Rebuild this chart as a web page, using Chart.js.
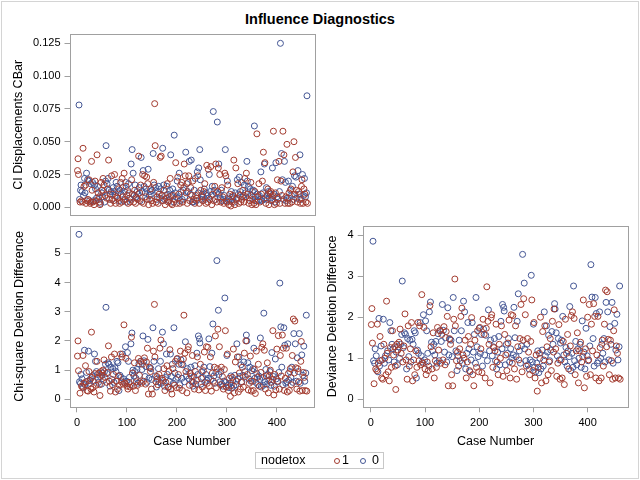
<!DOCTYPE html>
<html>
<head>
<meta charset="utf-8">
<script src="https://cdn.jsdelivr.net/npm/chart.js@4/dist/chart.umd.min.js"></script>
<style>
  body { margin: 0; background: #fff; }
  #page { position: relative; width: 640px; height: 480px; font-family: "Liberation Sans", Arial, sans-serif; }
  canvas { position: absolute; }
  #outline { position: absolute; left: 1px; top: 1px; width: 636px; height: 476px; border: 1px solid #d4d4d4; }
  #title { position: absolute; left: 0; width: 640px; top: 10px; text-align: center; font-weight: bold; font-size: 14.5px; line-height: 18px; color: #000; }
  #legend { position: absolute; left: 255px; top: 452px; width: 127px; height: 15px; border: 1px solid #c8c8c8; font-size: 12.5px; line-height: 15px; color: #000; }
  #legend span { position: absolute; top: 0; }
  #legend i { position: absolute; top: 5px; width: 4px; height: 4px; border-radius: 50%; border: 1px solid; }
</style>
</head>
<body>
<div id="page">
  <div id="outline"></div>
  <div id="title">Influence Diagnostics</div>
  <canvas id="cbarChart" width="330" height="220" style="left:0;top:0"></canvas>
  <canvas id="chisqChart" width="330" height="240" style="left:0;top:220px"></canvas>
  <canvas id="devChart" width="330" height="240" style="left:310px;top:220px"></canvas>
  <div id="legend">
    <span style="left:5px">nodetox</span>
    <i style="left:78px;border-color:#a23a2e"></i><span style="left:86px">1</span>
    <i style="left:104px;border-color:#445694"></i><span style="left:116px">0</span>
  </div>
</div>
<script>
// nodetox group per case (1 = red, 0 = blue)
const nodetox = [
  1,1,1,0,0,1,0,0,1,0, 1,1,0,1,0,0,1,1,0,1,
  0,1,0,1,0,1,0,1,1,1, 0,1,0,1,0,1,0,1,0,1,
  0,1,0,1,1,1,0,1,0,1, 0,1,0,1,0,1,0,0,1,0,
  1,0,1,0,1,0,1,0,1,0, 1,0,1,0,1,0,1,0,1,0,
  1,0,1,0,1,0,1,0,1,1, 0,1,0,1,0,1,0,1,0,1,
  0,1,0,1,0,1,0,0,1,0, 1,0,1,0,1,0,1,0,1,0,
  1,0,1,0,1,0,1,0,1,0, 1,0,1,0,1,0,1,0,1,0,
  1,0,1,0,1,0,1,0,1,0, 1,0,1,0,1,1,0,1,0,1,
  0,1,0,1,0,1,0,1,0,1, 0,1,0,1,0,1,0,1,0,1,
  0,1,0,1,0,1,0,1,0,1, 0,1,0,0,1,0,1,0,1,0,
  1,0,1,0,1,0,1,0,1,0, 1,0,1,1,0,1,0,1,0,1,
  0,1,1,0,1,0,1,0,1,0, 1,0,1,0,1,0,1,0,1,0,
  1,0,0,1,0,0,1,0,1,0, 1,0,1,0,1,0,1,0,1,0,
  1,1,0,0,1,0,1,0,1,0, 1,0,1,0,1,0,1,0,1,0,
  1,1,0,0,1,0,1,0,1,0, 1,0,1,0,1,0,1,0,1,0,
  1,0,1,0,1,0,1,0,1,0, 1,0,1,0,1,0,1,0,1,0,
  1,0,1,0,1,0,1,0,1,0, 1,0,1,0,1,0,1,1,0,0,
  1,0,1,0,1,0,1,0,1,0, 1,0,1,0,1,0,1,0,1,0,
  1,0,1,0,1,0,0,1,0,1, 0,1,0,0,1,0,1,0,1,0,
  1,0,1,0,1,0,1,0,1,0, 1,1,0,1,0,1,0,1,0,1,
  0,1,1,0,1,0,1,0,1,0, 1,0,1,0,1,0,1,0,1,0,
  1,0,1,0,1,0,1,0,1,0, 1,0,1,0,1,1,0,1,0,1,
  0,1,0,1,0,1,0,1,1,0, 1,0,1,0,1,0,1,0,0,1
];

// CI displacement CBar
const cbar = [
  .028,.037,.025,.078,.006,.004,.013,.017,.005,.012, .004,.045,.009,.016,.022,.011,.017,.003,.026,.005,
  .021,.006,.020,.021,.005,.003,.018,.004,.035,.013, .019,.004,.005,.002,.017,.020,.014,.005,.007,.040,
  .016,.011,.006,.008,.004,.002,.003,.019,.011,.013, .008,.022,.012,.017,.004,.009,.020,.047,.007,.018,
  .014,.022,.036,.013,.006,.010,.003,.012,.024,.006, .010,.015,.005,.012,.025,.009,.003,.019,.008,.016,
  .007,.011,.014,.005,.003,.013,.019,.010,.004,.022, .015,.008,.005,.026,.012,.006,.019,.016,.004,.009,
  .013,.003,.018,.011,.007,.004,.006,.033,.021,.044, .010,.026,.004,.009,.013,.017,.003,.008,.007,.012,
  .006,.010,.039,.015,.011,.005,.017,.038,.004,.012, .025,.028,.003,.016,.024,.011,.008,.014,.023,.006,
  .018,.029,.002,.009,.006,.012,.014,.010,.005,.013, .003,.041,.019,.017,.079,.047,.015,.004,.006,.008,
  .012,.003,.016,.010,.007,.038,.014,.039,.005,.009, .045,.005,.017,.013,.006,.002,.009,.007,.016,.018,
  .010,.004,.005,.008,.013,.022,.040,.003,.009,.002, .014,.009,.004,.055,.006,.011,.034,.008,.003,.020,
  .023,.007,.010,.026,.003,.005,.017,.012,.019,.006, .004,.013,.015,.033,.008,.024,.042,.011,.018,.003,
  .012,.019,.024,.035,.005,.010,.015,.036,.009,.004, .020,.004,.006,.013,.003,.022,.009,.005,.007,.027,
  .024,.011,.030,.003,.044,.021,.013,.006,.008,.010, .005,.008,.012,.014,.018,.006,.003,.011,.032,.009,
  .004,.029,.007,.025,.006,.012,.031,.009,.002,.016, .010,.073,.005,.013,.016,.006,.033,.011,.004,.065,
  .012,.030,.033,.010,.025,.007,.004,.013,.015,.005, .008,.006,.003,.009,.026,.044,.024,.005,.004,.020,
  .017,.007,.002,.006,.010,.005,.001,.012,.004,.006, .009,.008,.036,.004,.002,.011,.030,.006,.007,.021,
  .018,.010,.003,.023,.009,.012,.004,.019,.006,.008, .013,.009,.004,.017,.022,.011,.008,.026,.035,.020,
  .010,.016,.003,.007,.005,.014,.019,.009,.002,.012, .006,.013,.003,.062,.012,.008,.002,.005,.056,.010,
  .008,.005,.018,.009,.004,.006,.027,.010,.005,.020, .011,.042,.006,.033,.034,.007,.003,.015,.009,.006,
  .014,.012,.002,.007,.011,.010,.012,.005,.006,.030, .009,.058,.010,.002,.004,.011,.034,.003,.008,.021,
  .006,.007,.035,.012,.003,.125,.020,.041,.009,.021, .058,.006,.040,.035,.003,.019,.008,.005,.048,.007,
  .003,.020,.011,.007,.003,.013,.014,.009,.004,.016, .027,.006,.050,.024,.010,.038,.023,.013,.007,.004,
  .028,.012,.010,.006,.040,.003,.006,.016,.021,.025, .003,.009,.014,.022,.010,.008,.004,.011,.085,.003
];

// Chi-square deletion difference
const difChiSq = [
  1.48,2.00,0.98,5.65,0.60,0.21,0.55,0.85,0.45,0.70, 0.42,1.50,0.40,0.55,1.68,0.50,1.15,0.60,0.92,0.30,
  0.62,0.28,1.65,0.95,0.55,0.65,0.70,0.35,2.30,0.75, 0.80,0.40,0.62,0.25,1.55,0.88,1.30,0.48,0.95,1.30,
  0.85,0.72,0.58,0.90,0.50,0.13,0.78,0.95,0.52,0.82, 0.90,1.00,0.65,1.35,0.95,0.75,1.20,3.15,0.58,0.88,
  0.92,1.25,1.83,1.20,0.62,0.45,0.28,1.10,1.45,0.68, 0.50,1.05,0.85,0.58,1.55,1.08,0.25,0.95,0.62,1.30,
  0.35,1.25,0.80,0.30,0.48,0.82,1.55,0.75,0.60,1.45, 1.55,0.52,0.70,2.55,0.58,0.55,1.80,1.40,0.62,0.45,
  1.60,0.35,1.30,0.58,0.75,0.42,0.50,1.90,2.13,2.27, 0.90,1.00,0.45,0.80,1.25,0.95,0.30,0.72,0.60,1.02,
  0.48,0.55,1.40,1.22,0.82,0.60,1.30,1.30,0.55,1.02, 1.20,2.17,0.62,1.32,1.42,0.78,0.52,1.12,1.28,0.58,
  1.75,2.05,0.18,0.72,1.10,1.08,0.95,1.05,0.35,0.68, 0.18,2.45,1.65,1.30,3.25,1.45,0.80,0.60,0.42,0.78,
  0.70,0.50,1.05,0.85,0.60,1.75,1.30,2.03,0.55,0.72, 2.30,0.65,1.90,1.05,0.45,0.30,0.75,0.58,1.55,1.15,
  0.85,0.42,0.40,0.95,0.62,1.70,1.55,0.35,0.78,0.18, 1.20,1.05,0.55,2.45,0.48,0.90,1.30,0.68,0.40,1.38,
  1.40,0.75,0.85,1.20,0.38,0.50,1.65,1.35,1.20,0.72, 0.30,1.18,1.38,2.88,0.60,1.58,1.97,0.95,0.80,0.22,
  1.05,1.70,1.80,0.70,0.48,0.90,0.88,1.10,0.80,0.60, 1.50,0.45,0.58,0.78,0.35,1.15,0.95,0.52,0.65,1.58,
  1.45,0.85,2.17,0.32,2.07,1.93,1.20,0.52,0.72,0.95, 0.42,0.75,0.98,1.10,1.62,0.58,0.30,0.85,1.80,0.65,
  0.55,1.78,0.72,2.07,0.45,1.12,1.45,0.68,0.28,1.58, 0.90,2.58,0.62,0.80,1.10,0.55,2.17,0.92,0.40,4.75,
  1.05,2.40,3.05,0.85,1.80,0.60,0.50,0.95,1.10,0.52, 0.78,0.45,0.35,0.62,1.02,3.47,2.35,0.58,0.42,1.50,
  1.55,0.48,0.30,0.40,0.72,0.55,0.10,0.80,0.48,0.38, 0.75,0.65,1.72,0.45,0.22,0.82,1.28,0.50,0.62,1.90,
  1.45,0.70,0.25,1.45,0.90,0.78,0.35,1.18,0.58,0.60, 1.10,0.82,0.42,1.28,1.58,0.95,0.78,2.00,2.20,2.00,
  0.85,1.25,0.32,0.70,0.55,1.10,1.48,0.62,0.28,0.98, 0.62,1.05,0.30,1.75,1.02,0.72,0.20,0.58,1.65,0.88,
  0.75,0.50,1.20,0.80,0.45,0.68,2.10,0.92,0.42,1.78, 0.75,1.90,0.48,2.95,1.68,0.60,0.35,1.02,0.80,0.52,
  1.25,0.85,0.22,0.65,0.80,0.95,1.00,0.48,0.58,1.60, 0.68,2.35,0.78,0.15,0.45,0.85,1.38,0.32,0.70,1.72,
  0.60,0.62,2.18,0.92,0.35,3.98,1.50,2.48,0.80,1.10, 2.20,0.50,1.75,2.45,0.30,1.85,0.72,0.55,1.75,0.60,
  0.25,1.90,0.88,0.65,0.30,0.95,1.05,0.75,0.50,1.10, 1.50,0.58,2.75,2.25,0.90,2.68,1.90,1.08,0.62,0.35,
  1.42,1.05,0.95,0.60,2.25,0.28,0.55,1.30,1.98,1.52, 0.30,0.82,0.92,1.82,0.75,0.62,0.30,0.90,2.88,0.28
];

// Deviance deletion difference
const difDev = [
  1.82,2.21,1.37,3.85,0.94,0.38,0.88,1.23,0.74,1.06, 0.70,1.83,0.67,0.88,1.97,0.81,1.53,0.94,1.30,0.52,
  0.96,0.49,1.95,1.34,0.88,1.00,1.06,0.60,2.39,1.12, 1.18,0.67,0.96,0.45,1.87,1.26,1.67,0.78,1.34,1.67,
  1.23,1.08,0.91,1.28,0.81,0.24,1.15,1.34,0.84,1.20, 1.28,1.39,1.00,1.71,1.34,1.12,1.58,2.88,0.91,1.26,
  1.30,1.62,2.08,1.58,0.96,0.74,0.49,1.48,1.79,1.04, 0.81,1.44,1.23,0.91,1.87,1.46,0.45,1.34,0.96,1.67,
  0.60,1.62,1.18,0.52,0.78,1.20,1.87,1.12,0.94,1.79, 1.87,0.84,1.06,2.55,0.91,0.88,2.06,1.75,0.96,0.74,
  1.91,0.60,1.67,0.91,1.12,0.70,0.81,2.13,2.28,2.37, 1.28,1.39,0.74,1.18,1.62,1.34,0.52,1.08,0.94,1.41,
  0.78,0.88,1.75,1.60,1.20,0.94,1.67,1.67,0.88,1.41, 1.58,2.31,0.96,1.68,1.77,1.15,0.84,1.50,1.65,0.91,
  2.02,2.23,0.33,1.08,1.48,1.46,1.34,1.44,0.60,1.04, 0.33,2.48,1.95,1.67,2.93,1.79,1.18,0.94,0.70,1.15,
  1.06,0.81,1.44,1.23,0.94,2.02,1.67,2.22,0.88,1.08, 2.39,1.00,2.13,1.44,0.74,0.52,1.12,0.91,1.87,1.53,
  1.23,0.70,0.67,1.34,0.96,1.99,1.87,0.60,1.15,0.33, 1.58,1.44,0.88,2.48,0.78,1.28,1.67,1.04,0.67,1.73,
  1.75,1.12,1.23,1.58,0.65,0.81,1.95,1.71,1.58,1.08, 0.52,1.56,1.73,2.74,0.94,1.90,2.18,1.34,1.18,0.40,
  1.44,1.99,2.06,1.06,0.78,1.28,1.26,1.48,1.18,0.94, 1.83,0.74,0.91,1.15,0.60,1.53,1.34,0.84,1.00,1.90,
  1.79,1.23,2.31,0.56,2.24,2.15,1.58,0.84,1.08,1.34, 0.70,1.12,1.37,1.48,1.93,0.91,0.52,1.23,2.06,1.00,
  0.88,2.04,1.08,2.24,0.74,1.50,1.79,1.04,0.49,1.90, 1.28,2.57,0.96,1.18,1.48,0.88,2.31,1.30,0.67,3.53,
  1.44,2.45,2.83,1.23,2.06,0.94,0.81,1.34,1.48,0.84, 1.15,0.74,0.60,0.96,1.41,3.02,2.42,0.91,0.70,1.83,
  1.87,0.78,0.52,0.67,1.08,0.88,0.20,1.18,0.78,0.65, 1.12,1.00,2.00,0.74,0.40,1.20,1.65,0.81,0.96,2.13,
  1.79,1.06,0.45,1.79,1.28,1.15,0.60,1.56,0.91,0.94, 1.48,1.20,0.70,1.65,1.90,1.34,1.15,2.20,2.33,2.20,
  1.23,1.62,0.56,1.06,0.88,1.48,1.82,0.96,0.49,1.37, 0.96,1.44,0.52,2.02,1.41,1.08,0.36,0.91,1.95,1.26,
  1.12,0.81,1.58,1.18,0.74,1.04,2.26,1.30,0.70,2.04, 1.12,2.13,0.78,2.76,1.97,0.94,0.60,1.41,1.18,0.84,
  1.62,1.23,0.40,1.00,1.18,1.34,1.39,0.78,0.91,1.91, 1.04,2.42,1.15,0.28,0.74,1.23,1.73,0.56,1.06,2.00,
  0.94,0.96,2.31,1.30,0.60,3.28,1.83,2.49,1.18,1.48, 2.33,0.81,2.02,2.48,0.52,2.09,1.08,0.88,2.02,0.94,
  0.45,2.13,1.26,1.00,0.52,1.34,1.44,1.12,0.81,1.48, 1.83,0.91,2.66,2.36,1.28,2.62,2.13,1.46,0.96,0.60,
  1.77,1.44,1.34,0.94,2.36,0.49,0.88,1.67,2.18,1.85, 0.52,1.20,1.30,2.07,1.12,0.96,0.52,1.28,2.76,0.49
];

const caseNumber = nodetox.map((_, i) => i + 1);
const caseTicks = [0, 100, 200, 300, 400];
const cbarTicks = [0, 0.025, 0.05, 0.075, 0.1, 0.125];
const chiTicks = [0, 1, 2, 3, 4, 5];
const devTicks = [0, 1, 2, 3, 4];

const RED = "#a23a2e";
const BLUE = "#445694";
const FRAME = "#a0a0a0";
const FONT = "'Liberation Sans', Arial, sans-serif";

// full rectangle round the plot area, like the SAS wall outline
const framePlugin = {
  id: "frame",
  beforeDatasetsDraw(chart) {
    const a = chart.chartArea;
    const ctx = chart.ctx;
    ctx.save();
    ctx.strokeStyle = FRAME;
    ctx.lineWidth = 1;
    ctx.strokeRect(Math.round(a.left) + 0.5, Math.round(a.top) + 0.5,
      Math.round(a.right - a.left) - 1, Math.round(a.bottom - a.top) - 1);
    ctx.restore();
  }
};

// keep the plot area exactly where the padding puts it
function noLabelPadding(s) {
  s.paddingTop = 0;
  s.paddingBottom = 0;
  s.paddingLeft = 0;
  s.paddingRight = 0;
}

function groupPoints(values, group) {
  return values
    .map((v, i) => ({ x: caseNumber[i], y: v }))
    .filter((p, i) => nodetox[i] === group);
}

function dataset(values, group, color) {
  return {
    label: String(group),
    data: groupPoints(values, group),
    borderColor: color,
    backgroundColor: "rgba(0,0,0,0)",
    pointRadius: 3,
    pointHoverRadius: 3,
    pointBorderWidth: 1
  };
}

function panel(id, values, o) {
  new Chart(document.getElementById(id), {
    type: "scatter",
    data: { datasets: [dataset(values, 1, RED), dataset(values, 0, BLUE)] },
    options: {
      responsive: false,
      animation: false,
      events: [],
      layout: { autoPadding: false, padding: o.padding },
      plugins: { legend: { display: false }, tooltip: { enabled: false } },
      scales: {
        x: {
          type: "linear",
          min: -15,
          max: 475,
          display: o.showX,
          afterBuildTicks: s => { s.ticks = caseTicks.map(v => ({ value: v })); },
          afterFit: s => { s.height = o.showX ? 42 : 0; noLabelPadding(s); },
          ticks: { color: "#000", font: { family: FONT, size: 11 }, padding: 4, maxRotation: 0, callback: v => String(v) },
          grid: { drawOnChartArea: false, drawTicks: true, tickLength: 5, color: FRAME },
          border: { display: false },
          title: { display: true, text: "Case Number", color: "#000", font: { family: FONT, size: 12.5 }, padding: { top: 0, bottom: 0 } }
        },
        y: {
          type: "linear",
          min: o.yMin,
          max: o.yMax,
          afterBuildTicks: s => { s.ticks = o.yTicks.map(v => ({ value: v })); },
          afterFit: s => { s.width = o.yWidth; noLabelPadding(s); },
          ticks: { color: "#000", font: { family: FONT, size: 11 }, padding: 4, callback: o.fmt },
          grid: { drawOnChartArea: false, drawTicks: true, tickLength: 5, color: FRAME },
          border: { display: false },
          title: { display: true, text: o.yTitle, color: "#000", font: { family: FONT, size: 12.5 }, padding: { top: o.titlePad, bottom: 0 } }
        }
      }
    },
    plugins: [framePlugin]
  });
}

panel("cbarChart", cbar, {
  showX: false, yMin: -0.0064, yMax: 0.1321, yTicks: cbarTicks, yWidth: 69.5,
  fmt: v => v.toFixed(3), yTitle: "CI Displacements CBar", titlePad: 11.5,
  padding: { left: 0, right: 15, top: 34, bottom: 4.3 }
});

panel("chisqChart", difChiSq, {
  showX: true, yMin: -0.274, yMax: 5.945, yTicks: chiTicks, yWidth: 69.5,
  fmt: v => String(v), yTitle: "Chi-square Deletion Difference", titlePad: 12.5,
  padding: { left: 0, right: 15.7, top: 5.7, bottom: 10.7 }
});

panel("devChart", difDev, {
  showX: true, yMin: -0.194, yMax: 4.228, yTicks: devTicks, yWidth: 52.7,
  fmt: v => String(v), yTitle: "Deviance Deletion Difference", titlePad: 15.5,
  padding: { left: 0, right: 11.7, top: 5.7, bottom: 10.7 }
});
</script>
</body>
</html>
